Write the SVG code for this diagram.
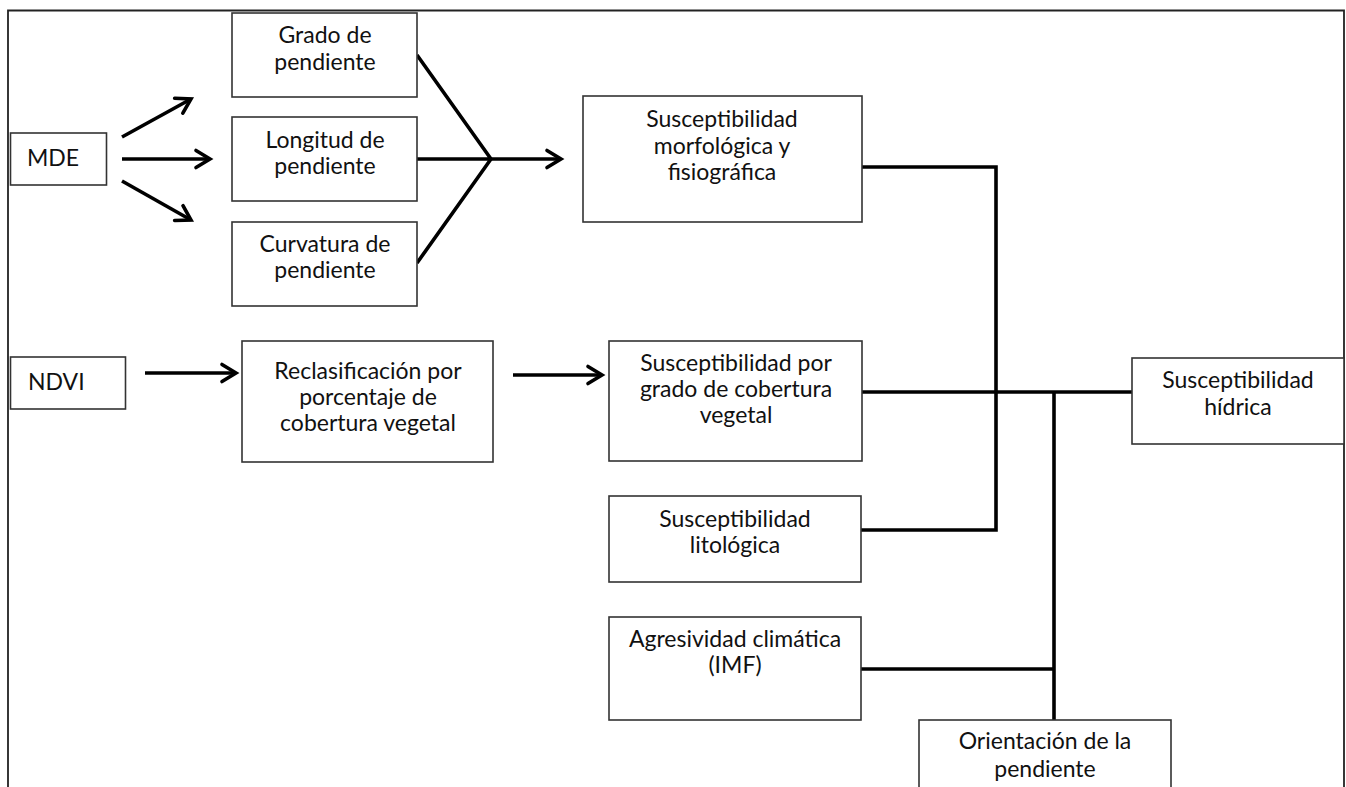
<svg xmlns="http://www.w3.org/2000/svg" width="1346" height="787" viewBox="0 0 1346 787">
<style>
.box{fill:#fff;stroke:#333;stroke-width:1.6}
.t{font-family:Lato,"Open Sans","Liberation Sans",sans-serif;font-size:23px;fill:#111;text-anchor:middle}
.tl{text-anchor:start}
.c{fill:none;stroke:#000;stroke-width:3.6;stroke-linejoin:miter}
.frame{fill:none;stroke:#222;stroke-width:1.8}
</style>
<defs>
<marker id="ah" markerUnits="userSpaceOnUse" markerWidth="24" markerHeight="24" viewBox="-18 -12 22 24" refX="0" refY="0" orient="auto">
<path d="M-14,-8.5 L0,0 L-14,8.5" fill="none" stroke="#000" stroke-width="3.6" stroke-linecap="round" stroke-linejoin="miter"/>
</marker>
</defs>
<rect width="1346" height="787" fill="#fff"/>
<path class="frame" d="M8,800 V10.5 H1344 V800"/>

<g id="connectors">
<line class="c" x1="122" y1="137" x2="191" y2="99" marker-end="url(#ah)"/>
<line class="c" x1="122" y1="159" x2="210" y2="159" marker-end="url(#ah)"/>
<line class="c" x1="122" y1="181" x2="191" y2="220" marker-end="url(#ah)"/>
<path class="c" d="M417,55 L491,159 M417,159 L491,159 M417,263 L491,159"/>
<line class="c" x1="489" y1="159" x2="561" y2="159" marker-end="url(#ah)"/>
<line class="c" x1="145" y1="373" x2="236" y2="373" marker-end="url(#ah)"/>
<line class="c" x1="513" y1="375" x2="602" y2="375" marker-end="url(#ah)"/>
<path class="c" d="M862,167 H996 V530 H861"/>
<path class="c" d="M862,392 H1132"/>
<path class="c" d="M861,669 H1054"/>
<path class="c" d="M1054,392 V722"/>
</g>

<g id="mde">
<rect class="box" x="10.5" y="133" width="96" height="52"/>
<text class="t tl" x="27" y="166">MDE</text>
</g>
<g id="grado">
<rect class="box" x="232" y="13" width="185" height="84"/>
<text class="t" x="325" y="43">Grado de</text>
<text class="t" x="325" y="70">pendiente</text>
</g>
<g id="longitud">
<rect class="box" x="232" y="117" width="185" height="84"/>
<text class="t" x="325" y="148">Longitud de</text>
<text class="t" x="325" y="174">pendiente</text>
</g>
<g id="curvatura">
<rect class="box" x="232" y="222" width="185" height="84"/>
<text class="t" x="325" y="252">Curvatura de</text>
<text class="t" x="325" y="278">pendiente</text>
</g>
<g id="morfologica">
<rect class="box" x="583" y="96" width="279" height="126"/>
<text class="t" x="722" y="127">Susceptibilidad</text>
<text class="t" x="722" y="154">morfológica y</text>
<text class="t" x="722" y="180">fisiográfica</text>
</g>
<g id="ndvi">
<rect class="box" x="10.5" y="357" width="115" height="52"/>
<text class="t tl" x="28" y="390">NDVI</text>
</g>
<g id="reclasificacion">
<rect class="box" x="242" y="341" width="251" height="121"/>
<text class="t" x="368" y="379">Reclasificación por</text>
<text class="t" x="368" y="405">porcentaje de</text>
<text class="t" x="368" y="431">cobertura vegetal</text>
</g>
<g id="cobertura">
<rect class="box" x="609" y="341" width="253" height="120"/>
<text class="t" x="736" y="371">Susceptibilidad por</text>
<text class="t" x="736" y="397">grado de cobertura</text>
<text class="t" x="736" y="423">vegetal</text>
</g>
<g id="litologica">
<rect class="box" x="609" y="496" width="252" height="86"/>
<text class="t" x="735" y="527">Susceptibilidad</text>
<text class="t" x="735" y="553">litológica</text>
</g>
<g id="agresividad">
<rect class="box" x="609" y="617" width="252" height="103"/>
<text class="t" x="735" y="647">Agresividad climática</text>
<text class="t" x="735" y="673">(IMF)</text>
</g>
<g id="hidrica">
<rect class="box" x="1132" y="358" width="212" height="86"/>
<text class="t" x="1238" y="388">Susceptibilidad</text>
<text class="t" x="1238" y="415">hídrica</text>
</g>
<g id="orientacion">
<rect class="box" x="919" y="720" width="252" height="90"/>
<text class="t" x="1045" y="749">Orientación de la</text>
<text class="t" x="1045" y="777">pendiente</text>
</g>
</svg>
